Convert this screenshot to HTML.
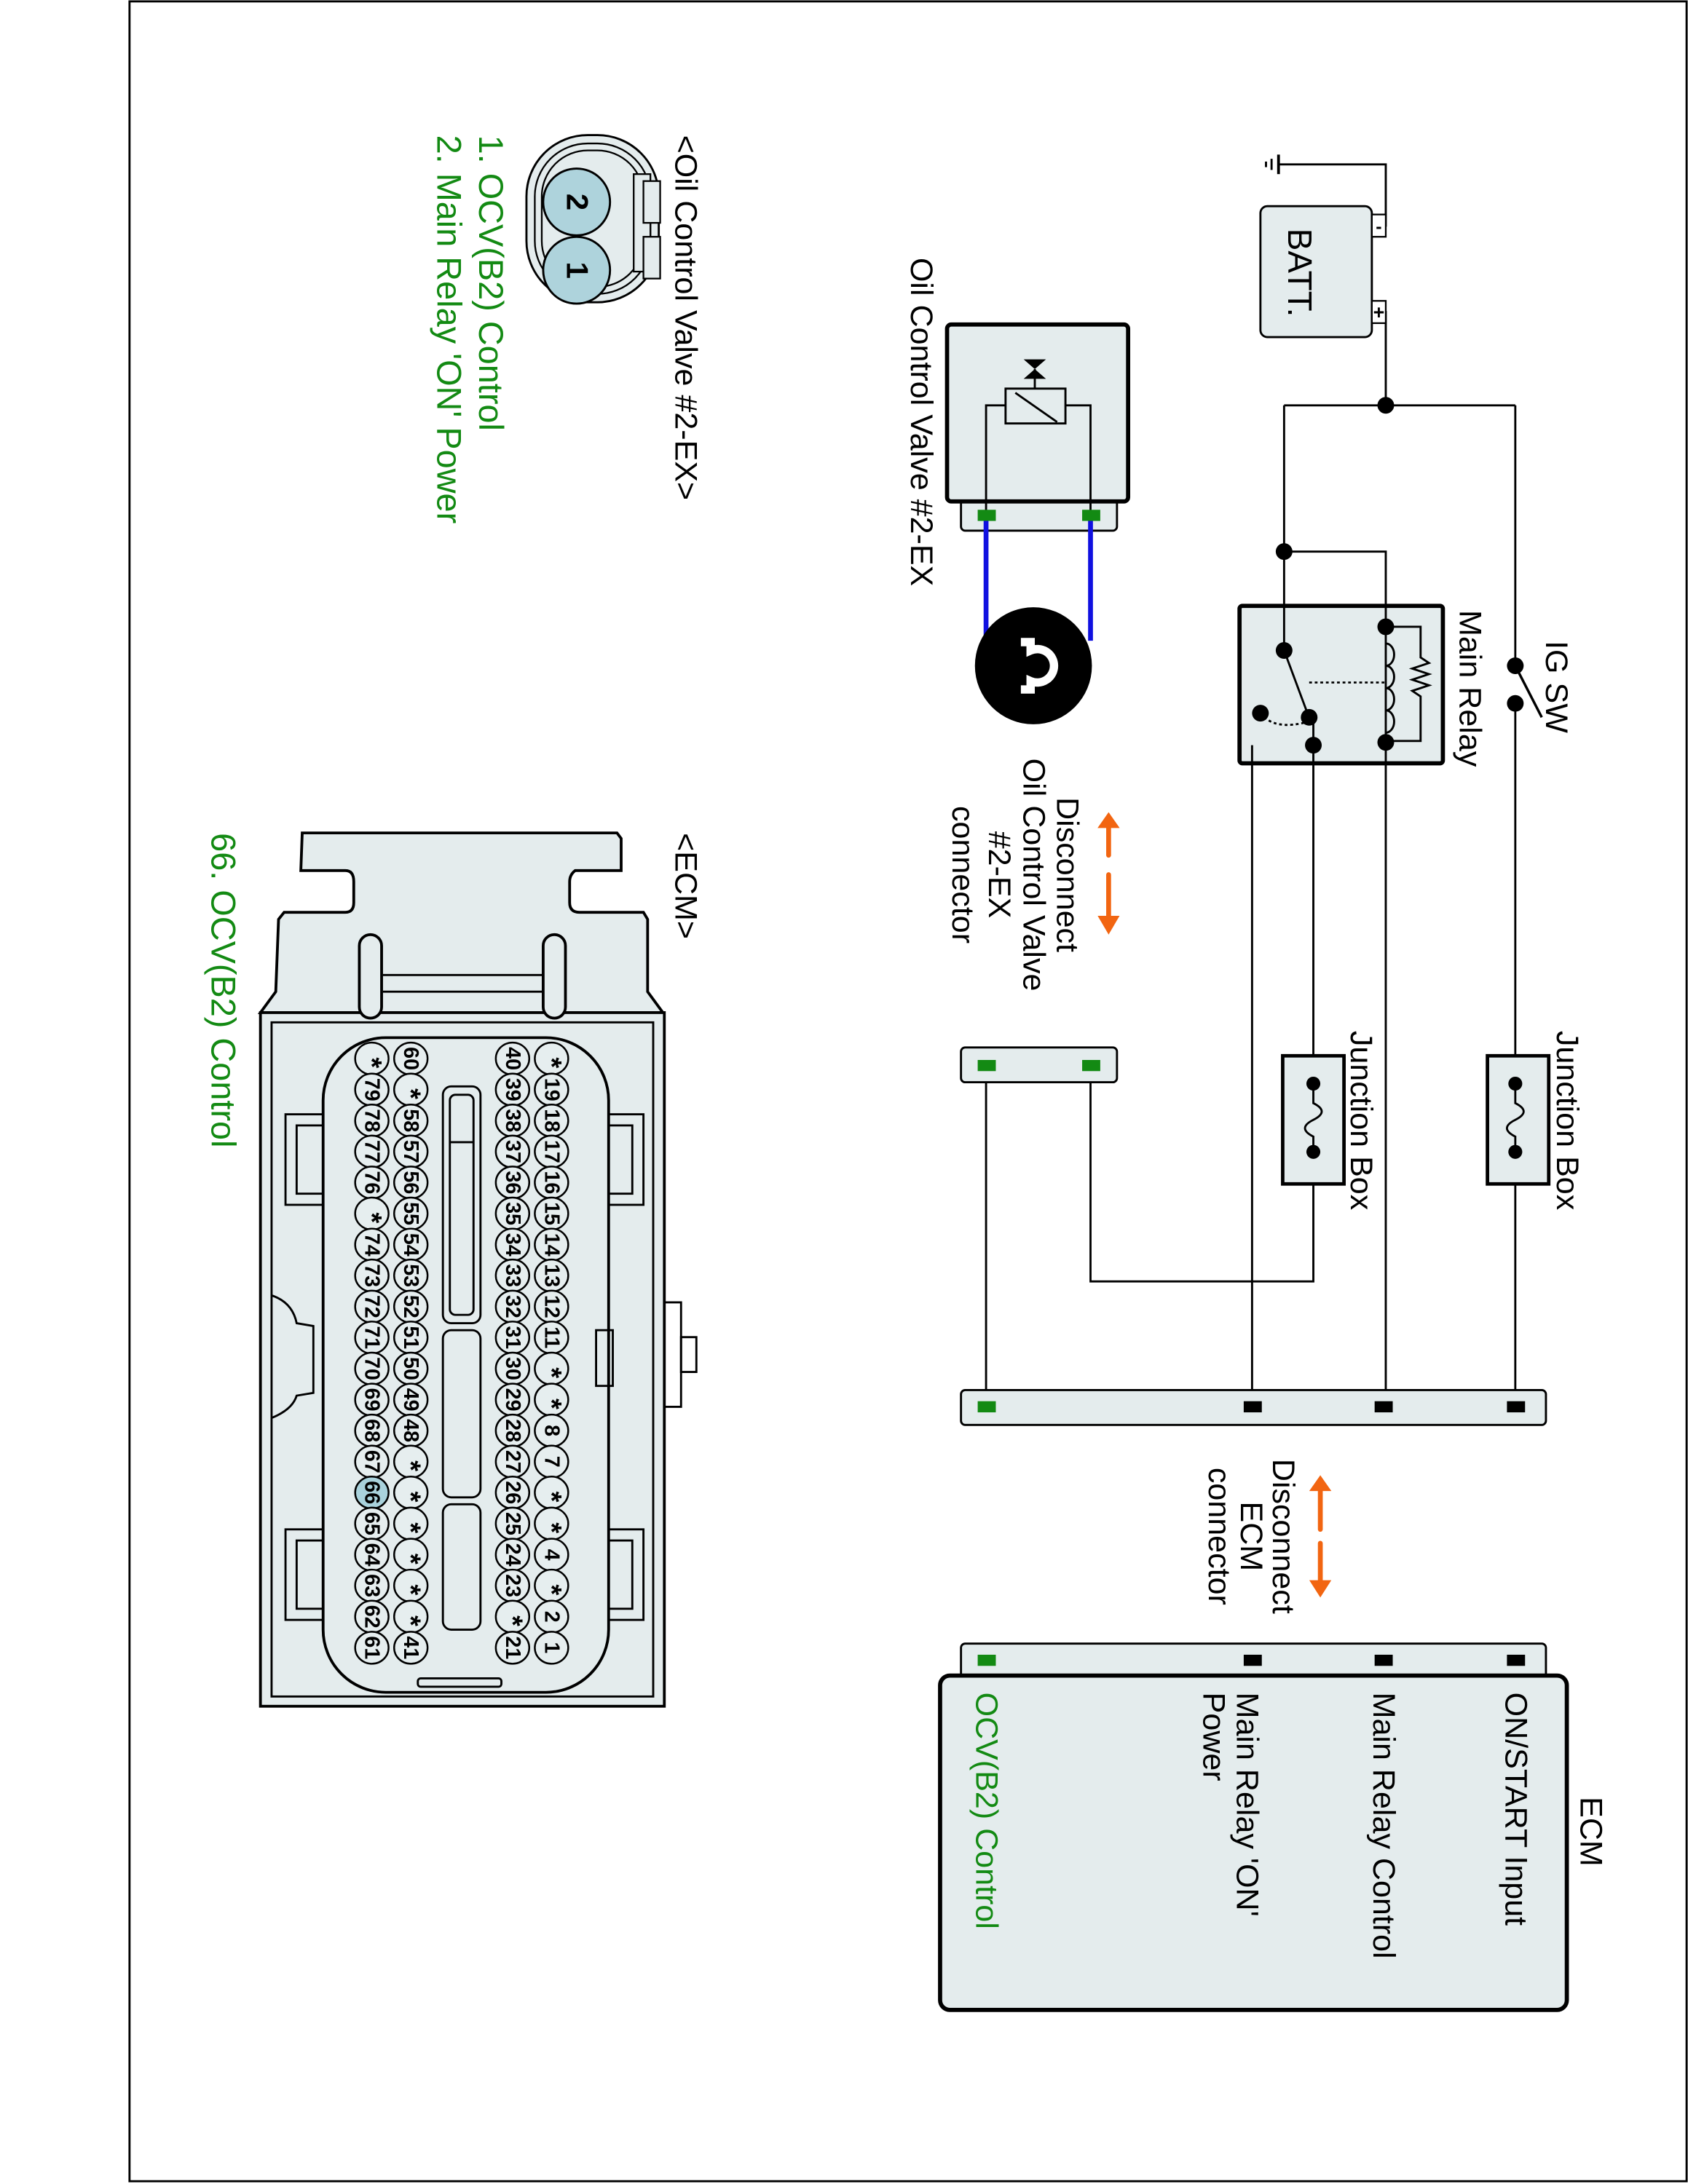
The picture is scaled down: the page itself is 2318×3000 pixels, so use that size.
<!DOCTYPE html>
<html><head><meta charset="utf-8"><style>
html,body{margin:0;padding:0;background:#fff}
svg{display:block}
text{font-family:"Liberation Sans",Arial,sans-serif}
.l{font-size:22.5px;fill:#000}
.g{fill:#138a13}
.b{font-size:24.5px}
.p{font-size:15px;text-anchor:middle;dominant-baseline:central;font-weight:bold}
.s{font-size:20px}
.pc ellipse{fill:#e6eeef;stroke:#000;stroke-width:1.3}
</style></head><body>
<svg width="2318" height="3000" viewBox="0 0 1212 1568" preserveAspectRatio="none" xmlns="http://www.w3.org/2000/svg">
<rect x="0" y="0" width="1212" height="1568" fill="#fff"/>
<rect x="93" y="1" width="1118" height="1565" fill="none" stroke="#000" stroke-width="1.5"/>

<g stroke="#000" stroke-width="1.5" fill="none">
<polyline points="989,162 995,162 995,118 918,118"/>
<line x1="918" y1="111" x2="918" y2="125" stroke-width="2"/>
<line x1="913" y1="114" x2="913" y2="122"/>
<line x1="909" y1="116" x2="909" y2="120"/>
<polyline points="989,224 995,224 995,291"/>
<line x1="922" y1="291" x2="1088" y2="291"/>
<line x1="922" y1="291" x2="922" y2="467"/>
<polyline points="922,396 995,396 995,450"/>
<line x1="1088" y1="291" x2="1088" y2="478"/>
<line x1="1088" y1="505" x2="1088" y2="1010"/>
<line x1="1088" y1="478" x2="1107" y2="515" stroke-width="1.8"/>
<line x1="995" y1="533" x2="995" y2="1010"/>
<polyline points="943,535 943,920 783,920 783,765"/>
<polyline points="899,1010 899,535 943,535"/>
<line x1="708" y1="765" x2="708" y2="1010"/>
</g>
<rect x="905" y="148" width="80" height="94" rx="5" fill="#e4eced" stroke="#000" stroke-width="1.5"/>
<rect x="985" y="154" width="10" height="16" fill="#fff" stroke="#000" stroke-width="1.2"/>
<rect x="985" y="216" width="10" height="16" fill="#fff" stroke="#000" stroke-width="1.2"/>
<text x="990" y="167" font-size="13" text-anchor="middle" font-weight="bold">-</text>
<text x="990" y="229" font-size="14" text-anchor="middle" font-weight="bold">+</text>
<text class="l" transform="translate(925,164) rotate(90)" style="font-size:24px">BATT.</text>
<circle cx="995" cy="291" r="6" fill="#000"/>
<circle cx="922" cy="396" r="6" fill="#000"/>
<circle cx="1088" cy="478" r="6" fill="#000"/>
<circle cx="1088" cy="505" r="6" fill="#000"/>
<text class="l" transform="translate(1110,460) rotate(90)">IG SW</text>

<rect x="890" y="435" width="146" height="113" rx="2" fill="#e4eced" stroke="#000" stroke-width="3"/>
<g stroke="#000" stroke-width="1.5" fill="none">
<line x1="922" y1="435" x2="922" y2="467"/>
<line x1="995" y1="435" x2="995" y2="548"/>
<polyline points="995,450 1020,450 1020,472 1026,476 1014,480 1026,484 1014,488 1026,492 1014,496 1020,500 1020,532 995,532"/>
<path d="M995,462 a6,8 0 0 1 0,16 a6,8 0 0 1 0,16 a6,8 0 0 1 0,16 a6,8 0 0 1 0,16" />
<line x1="922" y1="467" x2="938" y2="510"/>
<line x1="940" y1="490" x2="995" y2="490" stroke-dasharray="2,2"/>
<path d="M905,512 Q915,525 940,518" stroke-dasharray="2,2"/>
<line x1="943" y1="515" x2="943" y2="548"/>
<line x1="899" y1="535" x2="899" y2="548"/>
</g>
<circle cx="995" cy="450" r="6" fill="#000"/>
<circle cx="995" cy="533" r="6" fill="#000"/>
<circle cx="922" cy="467" r="6" fill="#000"/>
<circle cx="940" cy="515" r="6" fill="#000"/>
<circle cx="905" cy="512" r="6" fill="#000"/>
<circle cx="943" cy="535" r="6" fill="#000"/>
<text class="l" transform="translate(1048,438) rotate(90)">Main Relay</text>

<rect x="1068" y="758" width="44" height="92" fill="#e4eced" stroke="#000" stroke-width="2.5"/>
<circle cx="1088" cy="778" r="5" fill="#000"/><circle cx="1088" cy="827" r="5" fill="#000"/>
<path d="M1088,778 L1088,792 Q1100,798 1088,804 Q1076,810 1088,816 L1088,827" fill="none" stroke="#000" stroke-width="1.5"/>
<text class="l" transform="translate(1118,740) rotate(90)">Junction Box</text>
<rect x="921" y="758" width="44" height="92" fill="#e4eced" stroke="#000" stroke-width="2.5"/>
<circle cx="943" cy="778" r="5" fill="#000"/><circle cx="943" cy="827" r="5" fill="#000"/>
<path d="M943,778 L943,792 Q955,798 943,804 Q931,810 943,816 L943,827" fill="none" stroke="#000" stroke-width="1.5"/>
<text class="l" transform="translate(970,740) rotate(90)">Junction Box</text>

<rect x="690" y="356" width="112" height="25" rx="3" fill="#e4eced" stroke="#000" stroke-width="1.5"/>
<rect x="680" y="233" width="130" height="127" rx="3" fill="#e4eced" stroke="#000" stroke-width="3"/>
<g stroke="#000" stroke-width="1.5" fill="none">
<polyline points="708,368 708,291 722,291"/>
<polyline points="783,368 783,291 765,291"/>
<rect x="722" y="279" width="43" height="25"/>
<line x1="729" y1="282" x2="759" y2="303"/>
<line x1="743" y1="279" x2="743" y2="265"/>
</g>
<polygon points="735,258 751,258 743,265 735,272 751,272 743,265" fill="#000"/>
<rect x="702" y="366" width="13" height="8" fill="#138a13"/>
<rect x="777" y="366" width="13" height="8" fill="#138a13"/>
<line x1="708" y1="374" x2="708" y2="460" stroke="#1010e0" stroke-width="3.5"/>
<line x1="783" y1="374" x2="783" y2="460" stroke="#1010e0" stroke-width="3.5"/>
<circle cx="742" cy="478" r="42" fill="#000"/>
<path d="M733,461 L740,461 L740,467 A12,12 0 1 1 740,489 L740,495 L733,495" fill="none" stroke="#fff" stroke-width="6"/>
<text class="l" transform="translate(654,185) rotate(90)">Oil Control Valve #2-EX</text>

<g fill="#f26511" stroke="#f26511">
<line x1="796" y1="592" x2="796" y2="614" stroke-width="3.5" stroke-linecap="round"/>
<polygon points="789,594 803,594 796,584" />
<line x1="796" y1="628" x2="796" y2="660" stroke-width="3.5" stroke-linecap="round"/>
<polygon points="789,658 803,658 796,670"/>
</g>
<g class="l" text-anchor="middle">
<text transform="translate(759,628) rotate(90)">Disconnect</text>
<text transform="translate(735,628) rotate(90)">Oil Control Valve</text>
<text transform="translate(710,628) rotate(90)">#2-EX</text>
<text transform="translate(684,628) rotate(90)">connector</text>
</g>

<rect x="690" y="752" width="112" height="25" rx="3" fill="#e4eced" stroke="#000" stroke-width="1.5"/>
<rect x="702" y="761" width="13" height="8" fill="#138a13"/>
<rect x="777" y="761" width="13" height="8" fill="#138a13"/>

<rect x="690" y="998" width="420" height="25" rx="3" fill="#e4eced" stroke="#000" stroke-width="1.5"/>
<rect x="702" y="1006" width="13" height="8" fill="#138a13"/>
<rect x="893" y="1006" width="13" height="8" fill="#000"/>
<rect x="987" y="1006" width="13" height="8" fill="#000"/>
<rect x="1082" y="1006" width="13" height="8" fill="#000"/>

<g fill="#f26511" stroke="#f26511">
<line x1="948" y1="1066" x2="948" y2="1098" stroke-width="3.5" stroke-linecap="round"/>
<polygon points="941,1070 955,1070 948,1060"/>
<line x1="948" y1="1108" x2="948" y2="1136" stroke-width="3.5" stroke-linecap="round"/>
<polygon points="941,1135 955,1135 948,1146"/>
</g>
<g class="l" text-anchor="middle">
<text transform="translate(914,1103) rotate(90)">Disconnect</text>
<text transform="translate(891,1103) rotate(90)">ECM</text>
<text transform="translate(868,1103) rotate(90)">connector</text>
</g>

<rect x="690" y="1180" width="420" height="30" rx="3" fill="#e4eced" stroke="#000" stroke-width="1.5"/>
<rect x="702" y="1188" width="13" height="8" fill="#138a13"/>
<rect x="893" y="1188" width="13" height="8" fill="#000"/>
<rect x="987" y="1188" width="13" height="8" fill="#000"/>
<rect x="1082" y="1188" width="13" height="8" fill="#000"/>
<rect x="675" y="1203" width="450" height="240" rx="7" fill="#e4eced" stroke="#000" stroke-width="3"/>
<text class="l" transform="translate(1135,1290) rotate(90)">ECM</text>
<text class="l" transform="translate(1081,1215) rotate(90)">ON/START Input</text>
<text class="l" transform="translate(986,1215) rotate(90)">Main Relay Control</text>
<text class="l" transform="translate(888,1215) rotate(90)">Main Relay 'ON'</text>
<text class="l" transform="translate(864,1215) rotate(90)">Power</text>
<text class="l g" transform="translate(701,1215) rotate(90)">OCV(B2) Control</text>

<text class="l" transform="translate(485,97) rotate(90)">&lt;Oil Control Valve #2-EX&gt;</text>
<rect x="378" y="97" width="95" height="120" rx="44" fill="#e4eced" stroke="#000" stroke-width="1.5"/>
<rect x="384" y="103" width="83" height="108" rx="38" fill="none" stroke="#000" stroke-width="1.2"/>
<rect x="389" y="108" width="73" height="98" rx="33" fill="none" stroke="#000" stroke-width="1.2"/>
<rect x="455" y="125" width="12" height="70" fill="#e4eced" stroke="#000" stroke-width="1.2"/>
<rect x="462" y="130" width="12" height="30" fill="#e4eced" stroke="#000" stroke-width="1.2"/>
<rect x="462" y="170" width="12" height="30" fill="#e4eced" stroke="#000" stroke-width="1.2"/>
<circle cx="414" cy="145" r="24" fill="#aed3dc" stroke="#000" stroke-width="1.5"/>
<circle cx="414" cy="194" r="24" fill="#aed3dc" stroke="#000" stroke-width="1.5"/>
<text transform="translate(407,145) rotate(90)" font-size="22" text-anchor="middle" font-weight="bold">2</text>
<text transform="translate(407,194) rotate(90)" font-size="22" text-anchor="middle" font-weight="bold">1</text>
<text class="l g b" transform="translate(344,97) rotate(90)">1. OCV(B2) Control</text>
<text class="l g b" transform="translate(314,97) rotate(90)">2. Main Relay 'ON' Power</text>

<text class="l" transform="translate(485,598) rotate(90)">&lt;ECM&gt;</text>
<text class="l g b" transform="translate(152,598) rotate(90)">66. OCV(B2) Control</text>
<path d="M217,598 L443,598 L446,602 L446,625 L413,625 Q409,628 409,633 L409,648 Q409,655 416,655 L462,655 L465,660 L465,712 L476,727 L187,727 L198,712 L200,660 L204,655 L248,655 Q254,655 254,648 L254,633 Q254,625 248,625 L216,625 Z" fill="#e4eced" stroke="#000" stroke-width="2"/>
<rect x="187" y="727" width="290" height="498" fill="#e4eced" stroke="#000" stroke-width="2"/>
<rect x="195" y="734" width="274" height="484" fill="none" stroke="#000" stroke-width="1.5"/>
<line x1="275" y1="700" x2="390" y2="700" stroke="#000" stroke-width="1.5"/>
<line x1="275" y1="712" x2="390" y2="712" stroke="#000" stroke-width="1.5"/>
<rect x="258" y="671" width="16" height="60" rx="8" fill="#e4eced" stroke="#000" stroke-width="2"/>
<rect x="390" y="671" width="16" height="60" rx="8" fill="#e4eced" stroke="#000" stroke-width="2"/>
<rect x="232" y="745" width="205" height="470" rx="45" fill="#e4eced" stroke="#000" stroke-width="2"/>
<g fill="none" stroke="#000" stroke-width="1.5">
<rect x="205" y="800" width="27" height="65"/>
<rect x="213" y="808" width="19" height="49"/>
<rect x="437" y="800" width="25" height="65"/>
<rect x="437" y="808" width="17" height="49"/>
<rect x="205" y="1098" width="27" height="65"/>
<rect x="213" y="1106" width="19" height="49"/>
<rect x="437" y="1098" width="25" height="65"/>
<rect x="437" y="1106" width="17" height="49"/>
<rect x="428" y="955" width="12" height="40"/>
<path d="M477,935 L489,935 L489,1010 L477,1010"/>
<rect x="489" y="960" width="11" height="25"/>
<path d="M195,930 Q210,935 213,950 L225,952 L225,1000 L213,1002 Q210,1012 195,1018"/>
<rect x="300" y="1205" width="60" height="6" rx="2"/>
<rect x="318" y="780" width="27" height="170" rx="6"/>
<rect x="323" y="786" width="17" height="158" rx="4"/>
<line x1="323" y1="820" x2="340" y2="820"/>
<rect x="318" y="955" width="27" height="120" rx="6"/>
<rect x="318" y="1080" width="27" height="90" rx="6"/>
</g>
<g class="pc">
<ellipse cx="396" cy="760" rx="12" ry="11.5"/><ellipse cx="396" cy="782.3" rx="12" ry="11.5"/><ellipse cx="396" cy="804.5" rx="12" ry="11.5"/><ellipse cx="396" cy="826.8" rx="12" ry="11.5"/><ellipse cx="396" cy="849" rx="12" ry="11.5"/><ellipse cx="396" cy="871.3" rx="12" ry="11.5"/><ellipse cx="396" cy="893.6" rx="12" ry="11.5"/><ellipse cx="396" cy="915.8" rx="12" ry="11.5"/><ellipse cx="396" cy="938.1" rx="12" ry="11.5"/><ellipse cx="396" cy="960.3" rx="12" ry="11.5"/><ellipse cx="396" cy="982.6" rx="12" ry="11.5"/><ellipse cx="396" cy="1004.9" rx="12" ry="11.5"/><ellipse cx="396" cy="1027.1" rx="12" ry="11.5"/><ellipse cx="396" cy="1049.4" rx="12" ry="11.5"/><ellipse cx="396" cy="1071.6" rx="12" ry="11.5"/><ellipse cx="396" cy="1093.9" rx="12" ry="11.5"/><ellipse cx="396" cy="1116.2" rx="12" ry="11.5"/><ellipse cx="396" cy="1138.4" rx="12" ry="11.5"/><ellipse cx="396" cy="1160.7" rx="12" ry="11.5"/><ellipse cx="396" cy="1183" rx="12" ry="11.5"/>
<ellipse cx="368" cy="760" rx="12" ry="11.5"/><ellipse cx="368" cy="782.3" rx="12" ry="11.5"/><ellipse cx="368" cy="804.5" rx="12" ry="11.5"/><ellipse cx="368" cy="826.8" rx="12" ry="11.5"/><ellipse cx="368" cy="849" rx="12" ry="11.5"/><ellipse cx="368" cy="871.3" rx="12" ry="11.5"/><ellipse cx="368" cy="893.6" rx="12" ry="11.5"/><ellipse cx="368" cy="915.8" rx="12" ry="11.5"/><ellipse cx="368" cy="938.1" rx="12" ry="11.5"/><ellipse cx="368" cy="960.3" rx="12" ry="11.5"/><ellipse cx="368" cy="982.6" rx="12" ry="11.5"/><ellipse cx="368" cy="1004.9" rx="12" ry="11.5"/><ellipse cx="368" cy="1027.1" rx="12" ry="11.5"/><ellipse cx="368" cy="1049.4" rx="12" ry="11.5"/><ellipse cx="368" cy="1071.6" rx="12" ry="11.5"/><ellipse cx="368" cy="1093.9" rx="12" ry="11.5"/><ellipse cx="368" cy="1116.2" rx="12" ry="11.5"/><ellipse cx="368" cy="1138.4" rx="12" ry="11.5"/><ellipse cx="368" cy="1160.7" rx="12" ry="11.5"/><ellipse cx="368" cy="1183" rx="12" ry="11.5"/>
<ellipse cx="295" cy="760" rx="12" ry="11.5"/><ellipse cx="295" cy="782.3" rx="12" ry="11.5"/><ellipse cx="295" cy="804.5" rx="12" ry="11.5"/><ellipse cx="295" cy="826.8" rx="12" ry="11.5"/><ellipse cx="295" cy="849" rx="12" ry="11.5"/><ellipse cx="295" cy="871.3" rx="12" ry="11.5"/><ellipse cx="295" cy="893.6" rx="12" ry="11.5"/><ellipse cx="295" cy="915.8" rx="12" ry="11.5"/><ellipse cx="295" cy="938.1" rx="12" ry="11.5"/><ellipse cx="295" cy="960.3" rx="12" ry="11.5"/><ellipse cx="295" cy="982.6" rx="12" ry="11.5"/><ellipse cx="295" cy="1004.9" rx="12" ry="11.5"/><ellipse cx="295" cy="1027.1" rx="12" ry="11.5"/><ellipse cx="295" cy="1049.4" rx="12" ry="11.5"/><ellipse cx="295" cy="1071.6" rx="12" ry="11.5"/><ellipse cx="295" cy="1093.9" rx="12" ry="11.5"/><ellipse cx="295" cy="1116.2" rx="12" ry="11.5"/><ellipse cx="295" cy="1138.4" rx="12" ry="11.5"/><ellipse cx="295" cy="1160.7" rx="12" ry="11.5"/><ellipse cx="295" cy="1183" rx="12" ry="11.5"/>
<ellipse cx="267" cy="760" rx="12" ry="11.5"/><ellipse cx="267" cy="782.3" rx="12" ry="11.5"/><ellipse cx="267" cy="804.5" rx="12" ry="11.5"/><ellipse cx="267" cy="826.8" rx="12" ry="11.5"/><ellipse cx="267" cy="849" rx="12" ry="11.5"/><ellipse cx="267" cy="871.3" rx="12" ry="11.5"/><ellipse cx="267" cy="893.6" rx="12" ry="11.5"/><ellipse cx="267" cy="915.8" rx="12" ry="11.5"/><ellipse cx="267" cy="938.1" rx="12" ry="11.5"/><ellipse cx="267" cy="960.3" rx="12" ry="11.5"/><ellipse cx="267" cy="982.6" rx="12" ry="11.5"/><ellipse cx="267" cy="1004.9" rx="12" ry="11.5"/><ellipse cx="267" cy="1027.1" rx="12" ry="11.5"/><ellipse cx="267" cy="1049.4" rx="12" ry="11.5"/><ellipse cx="267" cy="1071.6" rx="12" ry="11.5" style="fill:#a9d2dc"/><ellipse cx="267" cy="1093.9" rx="12" ry="11.5"/><ellipse cx="267" cy="1116.2" rx="12" ry="11.5"/><ellipse cx="267" cy="1138.4" rx="12" ry="11.5"/><ellipse cx="267" cy="1160.7" rx="12" ry="11.5"/><ellipse cx="267" cy="1183" rx="12" ry="11.5"/>
</g>
<g class="p">
<text class="s" transform="translate(396,763) rotate(90)">*</text><text transform="translate(396,782.3) rotate(90)">19</text><text transform="translate(396,804.5) rotate(90)">18</text><text transform="translate(396,826.8) rotate(90)">17</text><text transform="translate(396,849) rotate(90)">16</text><text transform="translate(396,871.3) rotate(90)">15</text><text transform="translate(396,893.6) rotate(90)">14</text><text transform="translate(396,915.8) rotate(90)">13</text><text transform="translate(396,938.1) rotate(90)">12</text><text transform="translate(396,960.3) rotate(90)">11</text><text class="s" transform="translate(396,985.6) rotate(90)">*</text><text class="s" transform="translate(396,1007.9) rotate(90)">*</text><text transform="translate(396,1027.1) rotate(90)">8</text><text transform="translate(396,1049.4) rotate(90)">7</text><text class="s" transform="translate(396,1074.6) rotate(90)">*</text><text class="s" transform="translate(396,1096.9) rotate(90)">*</text><text transform="translate(396,1116.2) rotate(90)">4</text><text class="s" transform="translate(396,1141.4) rotate(90)">*</text><text transform="translate(396,1160.7) rotate(90)">2</text><text transform="translate(396,1183) rotate(90)">1</text>
<text transform="translate(368,760) rotate(90)">40</text><text transform="translate(368,782.3) rotate(90)">39</text><text transform="translate(368,804.5) rotate(90)">38</text><text transform="translate(368,826.8) rotate(90)">37</text><text transform="translate(368,849) rotate(90)">36</text><text transform="translate(368,871.3) rotate(90)">35</text><text transform="translate(368,893.6) rotate(90)">34</text><text transform="translate(368,915.8) rotate(90)">33</text><text transform="translate(368,938.1) rotate(90)">32</text><text transform="translate(368,960.3) rotate(90)">31</text><text transform="translate(368,982.6) rotate(90)">30</text><text transform="translate(368,1004.9) rotate(90)">29</text><text transform="translate(368,1027.1) rotate(90)">28</text><text transform="translate(368,1049.4) rotate(90)">27</text><text transform="translate(368,1071.6) rotate(90)">26</text><text transform="translate(368,1093.9) rotate(90)">25</text><text transform="translate(368,1116.2) rotate(90)">24</text><text transform="translate(368,1138.4) rotate(90)">23</text><text class="s" transform="translate(368,1163.7) rotate(90)">*</text><text transform="translate(368,1183) rotate(90)">21</text>
<text transform="translate(295,760) rotate(90)">60</text><text class="s" transform="translate(295,785.3) rotate(90)">*</text><text transform="translate(295,804.5) rotate(90)">58</text><text transform="translate(295,826.8) rotate(90)">57</text><text transform="translate(295,849) rotate(90)">56</text><text transform="translate(295,871.3) rotate(90)">55</text><text transform="translate(295,893.6) rotate(90)">54</text><text transform="translate(295,915.8) rotate(90)">53</text><text transform="translate(295,938.1) rotate(90)">52</text><text transform="translate(295,960.3) rotate(90)">51</text><text transform="translate(295,982.6) rotate(90)">50</text><text transform="translate(295,1004.9) rotate(90)">49</text><text transform="translate(295,1027.1) rotate(90)">48</text><text class="s" transform="translate(295,1052.4) rotate(90)">*</text><text class="s" transform="translate(295,1074.6) rotate(90)">*</text><text class="s" transform="translate(295,1096.9) rotate(90)">*</text><text class="s" transform="translate(295,1119.2) rotate(90)">*</text><text class="s" transform="translate(295,1141.4) rotate(90)">*</text><text class="s" transform="translate(295,1163.7) rotate(90)">*</text><text transform="translate(295,1183) rotate(90)">41</text>
<text class="s" transform="translate(267,763) rotate(90)">*</text><text transform="translate(267,782.3) rotate(90)">79</text><text transform="translate(267,804.5) rotate(90)">78</text><text transform="translate(267,826.8) rotate(90)">77</text><text transform="translate(267,849) rotate(90)">76</text><text class="s" transform="translate(267,874.3) rotate(90)">*</text><text transform="translate(267,893.6) rotate(90)">74</text><text transform="translate(267,915.8) rotate(90)">73</text><text transform="translate(267,938.1) rotate(90)">72</text><text transform="translate(267,960.3) rotate(90)">71</text><text transform="translate(267,982.6) rotate(90)">70</text><text transform="translate(267,1004.9) rotate(90)">69</text><text transform="translate(267,1027.1) rotate(90)">68</text><text transform="translate(267,1049.4) rotate(90)">67</text><text transform="translate(267,1071.6) rotate(90)">66</text><text transform="translate(267,1093.9) rotate(90)">65</text><text transform="translate(267,1116.2) rotate(90)">64</text><text transform="translate(267,1138.4) rotate(90)">63</text><text transform="translate(267,1160.7) rotate(90)">62</text><text transform="translate(267,1183) rotate(90)">61</text>
</g>
</svg>
</body></html>
